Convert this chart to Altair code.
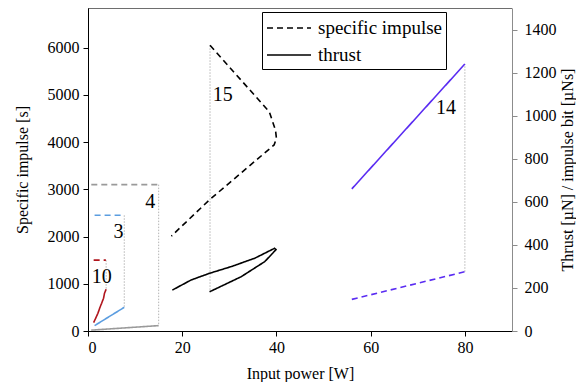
import altair as alt
import pandas as pd

FONT = "Liberation Serif"

# ---- data ----
SERIES = ["10", "3", "4", "15", "14"]
COLORS = ["#b0141c", "#5b9de0", "#9a9a9a", "#000000", "#5a2cf2"]

# specific impulse (dashed) [W, s]
isp_10_x = [1.2, 3.8];  isp_10_y = [1500, 1500]
isp_3_x = [1.4, 7.7];   isp_3_y = [2450, 2450]
isp_4_x = [0.7, 15.0];  isp_4_y = [3100, 3100]
isp_15_x = [25.9, 38.5, 39.8, 40.0, 39.5, 25.7, 17.7]
isp_15_y = [6050, 4640, 4250, 4080, 3940, 2770, 2010]
isp_14_x = [56.0, 80.0]; isp_14_y = [670, 1255]

# thrust (solid) [W, µN]
thr_10_x = [1.2, 2.1, 2.6, 2.9, 3.3, 3.5, 3.85]
thr_10_y = [39, 82, 113, 129, 152, 175, 194]
thr_3_x = [1.4, 7.7];   thr_3_y = [25, 110]
thr_4_x = [0.7, 15.0];  thr_4_y = [4, 25]
thr_15_x = [17.9, 21.9, 25.8, 30.4, 35.4, 39.6, 39.9, 39.2, 37.5, 32.5, 25.8]
thr_15_y = [190, 237, 268, 299, 338, 384, 378, 361, 322, 252, 182]
thr_14_x = [56.0, 80.0]; thr_14_y = [660, 1240]

# connector lines (x, isp end, thrust end)
con_series = ["10", "3", "4", "15", "14"]
con_x = [3.85, 7.7, 15.0, 25.9, 80.0]
con_isp = [1500, 2450, 3100, 6050, 1255]
con_thr = [194, 110, 25, 182, 1240]

# series labels
lab_text = ["10", "3", "4", "15", "14"]
lab_x = [2.9, 6.5, 13.2, 28.6, 76.0]
lab_y = [1150, 2100, 2740, 5000, 4716]

ISP_MAX = 6840
THR_MAX = 1500
RATIO = ISP_MAX / THR_MAX

isp_sets = {"10": (isp_10_x, isp_10_y), "3": (isp_3_x, isp_3_y), "4": (isp_4_x, isp_4_y),
            "15": (isp_15_x, isp_15_y), "14": (isp_14_x, isp_14_y)}
thr_sets = {"10": (thr_10_x, thr_10_y), "3": (thr_3_x, thr_3_y), "4": (thr_4_x, thr_4_y),
            "15": (thr_15_x, thr_15_y), "14": (thr_14_x, thr_14_y)}

rows = []
for s, (xs_, ys_) in isp_sets.items():
    for i, (a, b) in enumerate(zip(xs_, ys_)):
        rows.append({"series": s, "x": a, "v": b, "o": i, "kind": "specific impulse"})
isp_df = pd.DataFrame(rows)
rows = []
for s, (xs_, ys_) in thr_sets.items():
    for i, (a, b) in enumerate(zip(xs_, ys_)):
        rows.append({"series": s, "x": a, "v": b, "o": i, "kind": "thrust"})
thr_df = pd.DataFrame(rows)

con_df = pd.DataFrame({"series": con_series, "x": con_x, "y1": con_isp,
                       "y2": [t * RATIO for t in con_thr]})
lab_df = pd.DataFrame({"t": lab_text, "x": lab_x, "y": lab_y})

xs = alt.Scale(domain=[0, 90], nice=False, zero=False)
isp_scale = alt.Scale(domain=[0, ISP_MAX], nice=False)
thr_scale = alt.Scale(domain=[0, THR_MAX], nice=False)
col_scale = alt.Scale(domain=SERIES, range=COLORS)
dash_scale = alt.Scale(domain=["specific impulse", "thrust"], range=[[6, 4], [1, 0]])

FS = 16

x_enc = alt.X("x:Q", scale=xs, axis=alt.Axis(
    title="Input power [W]", values=[0, 20, 40, 60, 80], format="d", grid=False,
    domainColor="black", tickColor="black", tickSize=5, labelPadding=3,
    labelFont=FONT, labelFontSize=FS, labelColor="black",
    titleFont=FONT, titleFontSize=FS, titleFontWeight="normal", titleColor="black",
    titlePadding=10))

legend = alt.Legend(
    title=None, orient="none", legendX=174, legendY=4, direction="vertical",
    strokeColor="black", fillColor="white", padding=4,
    symbolType="M-1,0H3", symbolSize=484, symbolStrokeWidth=1.6,
    symbolStrokeColor="black", symbolFillColor="transparent",
    labelFont=FONT, labelFontSize=19, labelColor="black",
    labelOffset=28, rowPadding=5, cornerRadius=0)

isp_layer = alt.Chart(isp_df).mark_line(strokeWidth=1.6).encode(
    x=x_enc,
    y=alt.Y("v:Q", scale=isp_scale, axis=alt.Axis(
        title="Specific impulse [s]", orient="left", values=[0, 1000, 2000, 3000, 4000, 5000, 6000],
        format="d", grid=False, domainColor="black", tickColor="black", tickSize=5, labelPadding=4,
        labelFont=FONT, labelFontSize=FS, labelColor="black",
        titleFont=FONT, titleFontSize=FS, titleFontWeight="normal", titleColor="black",
        titlePadding=17)),
    color=alt.Color("series:N", scale=col_scale, legend=None),
    strokeDash=alt.StrokeDash("kind:N", scale=dash_scale, legend=legend),
    order="o:Q",
)

thr_layer = alt.Chart(thr_df).mark_line(strokeWidth=1.6).encode(
    x=alt.X("x:Q", scale=xs),
    y=alt.Y("v:Q", scale=thr_scale, axis=alt.Axis(
        title="Thrust [µN] / impulse bit [µNs]", orient="right", titleAngle=270,
        values=[0, 200, 400, 600, 800, 1000, 1200, 1400], format="d", grid=False,
        domainColor="#8c8c8c", tickColor="#8c8c8c", tickSize=5, labelPadding=7,
        labelFont=FONT, labelFontSize=FS, labelColor="black",
        titleFont=FONT, titleFontSize=FS, titleFontWeight="normal", titleColor="black",
        titlePadding=19)),
    color=alt.Color("series:N", scale=col_scale, legend=None),
    strokeDash=alt.StrokeDash("kind:N", scale=dash_scale, legend=legend),
    order="o:Q",
)

con_layer = alt.Chart(con_df).mark_rule(color="#b5b5b5", strokeWidth=1, strokeDash=[1.5, 1.5]).encode(
    x=alt.X("x:Q", scale=xs),
    y=alt.Y("y1:Q", scale=isp_scale, axis=None),
    y2="y2:Q",
)

lab_layer = alt.Chart(lab_df).mark_text(font=FONT, fontSize=20, color="black",
                                        align="center", baseline="middle").encode(
    x=alt.X("x:Q", scale=xs),
    y=alt.Y("y:Q", scale=isp_scale, axis=None),
    text="t:N",
)

top_layer = alt.Chart(pd.DataFrame({"a": [0]})).mark_rule(color="black", strokeWidth=1).encode(
    y=alt.value(0))

chart = alt.layer(con_layer, isp_layer, thr_layer, lab_layer, top_layer).resolve_scale(
    y="independent").properties(
    width=424, height=323,
    autosize=alt.AutoSizeParams(type="none"),
    padding={"left": 80, "top": 0, "right": 64, "bottom": 51},
).configure_view(stroke=None).configure_axis(labelFont=FONT, titleFont=FONT
).configure(background="white", font=FONT)

chart.save("out.html", embed_options={"renderer": "svg", "actions": False})
